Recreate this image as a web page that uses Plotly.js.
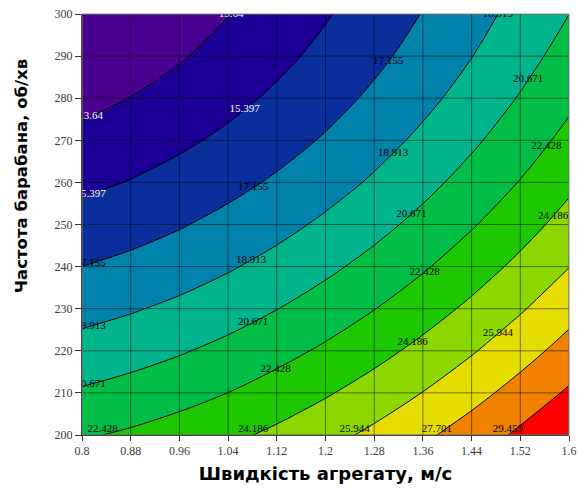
<!DOCTYPE html>
<html>
<head>
<meta charset="utf-8">
<script src="https://cdn.plot.ly/plotly-3.0.1.min.js"></script>
<style>html,body{margin:0;padding:0;background:#fff;}#chart{width:588px;height:490px;}</style>
</head>
<body>
<div id="chart"></div>
<script>
// Speed of the unit, m/s (x)
var speed = [0.8, 0.88, 0.96, 1.04, 1.12, 1.2, 1.28, 1.36, 1.44, 1.52, 1.6];
// Drum frequency, rpm (y)
var drumFreq = [200, 210, 220, 230, 240, 250, 260, 270, 280, 290, 300];
// Response values, rows follow drumFreq, columns follow speed
var zValues = [
  [22.25, 22.67, 23.19, 23.81, 24.54, 25.38, 26.32, 27.37, 28.52, 29.78, 31.14],
  [20.87, 21.30, 21.82, 22.44, 23.18, 24.01, 24.94, 25.98, 27.11, 28.36, 29.70],
  [19.56, 19.99, 20.52, 21.14, 21.87, 22.70, 23.63, 24.66, 25.79, 27.02, 28.35],
  [18.33, 18.76, 19.28, 19.90, 20.64, 21.46, 22.39, 23.41, 24.54, 25.77, 27.09],
  [17.16, 17.58, 18.11, 18.74, 19.47, 20.30, 21.22, 22.24, 23.36, 24.59, 25.91],
  [16.06, 16.49, 17.02, 17.66, 18.38, 19.22, 20.14, 21.16, 22.28, 23.50, 24.82],
  [15.03, 15.47, 16.01, 16.65, 17.39, 18.21, 19.14, 20.17, 21.29, 22.50, 23.82],
  [14.07, 14.53, 15.09, 15.74, 16.48, 17.32, 18.25, 19.27, 20.39, 21.59, 22.90],
  [13.18, 13.67, 14.25, 14.92, 15.68, 16.52, 17.46, 18.47, 19.58, 20.78, 22.07],
  [12.36, 12.89, 13.50, 14.21, 14.98, 15.83, 16.77, 17.79, 18.88, 20.06, 21.32],
  [11.61, 12.20, 12.86, 13.59, 14.39, 15.26, 16.20, 17.21, 18.29, 19.44, 20.66]
];
// Contour levels: 13.64, 15.397, ... 29.459
var levelStart = 13.63975;
var levelStep = 1.7577;
var levelCount = 10;
var whiteLabelCount = 2; // the first two levels are labelled in white
// Band colours, low to high
var bandColors = ['#4a0090', '#1c0096', '#0a2f9c', '#0082aa', '#00b48c', '#00be46',
                  '#1ec800', '#8cd700', '#e6dc00', '#f08200', '#ff0000'];
var xTicks = [0.8, 0.88, 0.96, 1.04, 1.12, 1.2, 1.28, 1.36, 1.44, 1.52, 1.6];
var xTickText = ['0.8', '0.88', '0.96', '1.04', '1.12', '1.2', '1.28', '1.36', '1.44', '1.52', '1.6'];
var yTicks = [200, 210, 220, 230, 240, 250, 260, 270, 280, 290, 300];
// Where the level labels sit: [level index, speed of the vertical guide]
var labelGuides = [
  [0, 0.814], [1, 0.814], [2, 0.814], [3, 0.814], [4, 0.814],
  [1, 1.067], [2, 1.081], [3, 1.078], [4, 1.081], [5, 1.118],
  [2, 1.303], [3, 1.311], [4, 1.341], [5, 1.363], [6, 1.343],
  [4, 1.533], [5, 1.563], [6, 1.574], [7, 1.483]
];
var labelBottomLevels = [5, 6, 7, 8, 9];
var labelTopLevels = [0, 3];

var levels = [];
for (var k = 0; k < levelCount; k++) levels.push(levelStart + k * levelStep);
var levelEnd = levels[levels.length - 1];
var colorscale = bandColors.map(function (c, i) { return [i / (bandColors.length - 1), c]; });

function rowValueAt(row, xc) {
  for (var i = 0; i < speed.length - 1; i++) {
    if (xc >= speed[i] - 1e-9 && xc <= speed[i + 1] + 1e-9) {
      var t = (xc - speed[i]) / (speed[i + 1] - speed[i]);
      return row[i] + t * (row[i + 1] - row[i]);
    }
  }
  return row[row.length - 1];
}
function crossAtX(L, xc) {
  var col = zValues.map(function (r) { return rowValueAt(r, xc); });
  for (var j = 0; j < col.length - 1; j++) {
    if ((col[j] - L) * (col[j + 1] - L) <= 0 && col[j] !== col[j + 1]) {
      return drumFreq[j] + (L - col[j]) / (col[j + 1] - col[j]) * (drumFreq[j + 1] - drumFreq[j]);
    }
  }
  return null;
}
function crossAtRow(L, rowIdx) {
  var r = zValues[rowIdx];
  for (var i = 0; i < r.length - 1; i++) {
    if ((r[i] - L) * (r[i + 1] - L) <= 0 && r[i] !== r[i + 1]) {
      return speed[i] + (L - r[i]) / (r[i + 1] - r[i]) * (speed[i + 1] - speed[i]);
    }
  }
  return null;
}
function fmt(v) { return String(Math.round(v * 1000) / 1000); }

var labWhite = {x: [], y: [], text: []}, labBlack = {x: [], y: [], text: []},
    labBottom = {x: [], y: [], text: []}, labTop = {x: [], y: [], text: [], color: []};
labelGuides.forEach(function (g) {
  var k = g[0], yy = crossAtX(levels[k], g[1]);
  if (yy === null) return;
  var tgt = k < whiteLabelCount ? labWhite : labBlack;
  tgt.x.push(g[1]); tgt.y.push(yy); tgt.text.push(fmt(levels[k]));
});
labelBottomLevels.forEach(function (k) {
  var xx = crossAtRow(levels[k], 0);
  if (xx === null) return;
  labBottom.x.push(xx); labBottom.y.push(drumFreq[0]); labBottom.text.push(fmt(levels[k]));
});
labelTopLevels.forEach(function (k) {
  var xx = crossAtRow(levels[k], drumFreq.length - 1);
  if (xx === null) return;
  labTop.x.push(xx); labTop.y.push(drumFreq[drumFreq.length - 1]); labTop.text.push(fmt(levels[k]));
  labTop.color.push(k < whiteLabelCount ? '#ffffff' : '#000000');
});

var fillTrace = {
  type: 'contour', x: speed, y: drumFreq, z: zValues,
  autocontour: false,
  contours: {start: levelStart, end: levelEnd, size: levelStep, coloring: 'fill', showlines: true},
  colorscale: colorscale, showscale: false, line: {width: 1, color: '#000000', smoothing: 1},
  hoverinfo: 'skip'
};
var labelFont = {family: 'Liberation Serif', size: 11};
function textTrace(d, color, pos) {
  return {type: 'scatter', mode: 'text', x: d.x, y: d.y, text: d.text, textposition: pos,
          cliponaxis: true, hoverinfo: 'skip',
          textfont: {family: labelFont.family, size: labelFont.size, color: color}};
}

var shapes = [];
xTicks.forEach(function (v) {
  shapes.push({type: 'line', xref: 'x', yref: 'paper', x0: v, x1: v, y0: 0, y1: 1,
               line: {color: 'rgba(0,0,0,0.5)', width: 1}, layer: 'above'});
});
yTicks.forEach(function (v) {
  shapes.push({type: 'line', xref: 'paper', yref: 'y', x0: 0, x1: 1, y0: v, y1: v,
               line: {color: 'rgba(0,0,0,0.5)', width: 1}, layer: 'above'});
});
shapes.push({type: 'rect', xref: 'paper', yref: 'paper', x0: 0, x1: 1, y0: 0, y1: 1,
             line: {color: '#8a8a8a', width: 1}, layer: 'above'});

var tickFont = {family: 'Liberation Serif', size: 12, color: '#3a3a3a'};
var layout = {
  width: 588, height: 490,
  margin: {l: 82, r: 19, t: 14, b: 55},
  paper_bgcolor: '#ffffff', plot_bgcolor: '#ffffff',
  showlegend: false,
  xaxis: {
    range: [0.8, 1.6], tickvals: xTicks, ticktext: xTickText, tickfont: tickFont,
    ticks: 'outside', ticklen: 5, tickcolor: '#333333', showgrid: false, zeroline: false,
    showline: true, linecolor: '#000000', linewidth: 1,
    title: {text: 'Швидкість агрегату, м/с', standoff: 9,
            font: {family: 'DejaVu Sans', size: 18, color: '#000000', weight: 'bold'}}
  },
  yaxis: {
    range: [200, 300], tickvals: yTicks, tickfont: tickFont,
    ticks: 'outside', ticklen: 6, tickcolor: '#333333', showgrid: false, zeroline: false,
    showline: true, linecolor: '#000000', linewidth: 1
  },
  annotations: [{
    text: 'Частота барабана, об/хв', textangle: -90, showarrow: false,
    xref: 'paper', yref: 'paper', x: -0.125, y: 0.615, xanchor: 'center', yanchor: 'middle',
    font: {family: 'DejaVu Sans', size: 16.5, color: '#000000', weight: 'bold'}
  }],
  shapes: shapes
};

var traces = [
  fillTrace,
  textTrace(labWhite, '#ffffff', 'middle center'),
  textTrace(labBlack, '#000000', 'middle center'),
  textTrace(labBottom, '#000000', 'top center'),
  {type: 'scatter', mode: 'text', x: labTop.x, y: labTop.y, text: labTop.text, textposition: 'middle center',
   cliponaxis: true, hoverinfo: 'skip',
   textfont: {family: labelFont.family, size: labelFont.size, color: labTop.color}}
];
Plotly.newPlot('chart', traces, layout, {displayModeBar: false, staticPlot: true});
</script>
</body>
</html>
